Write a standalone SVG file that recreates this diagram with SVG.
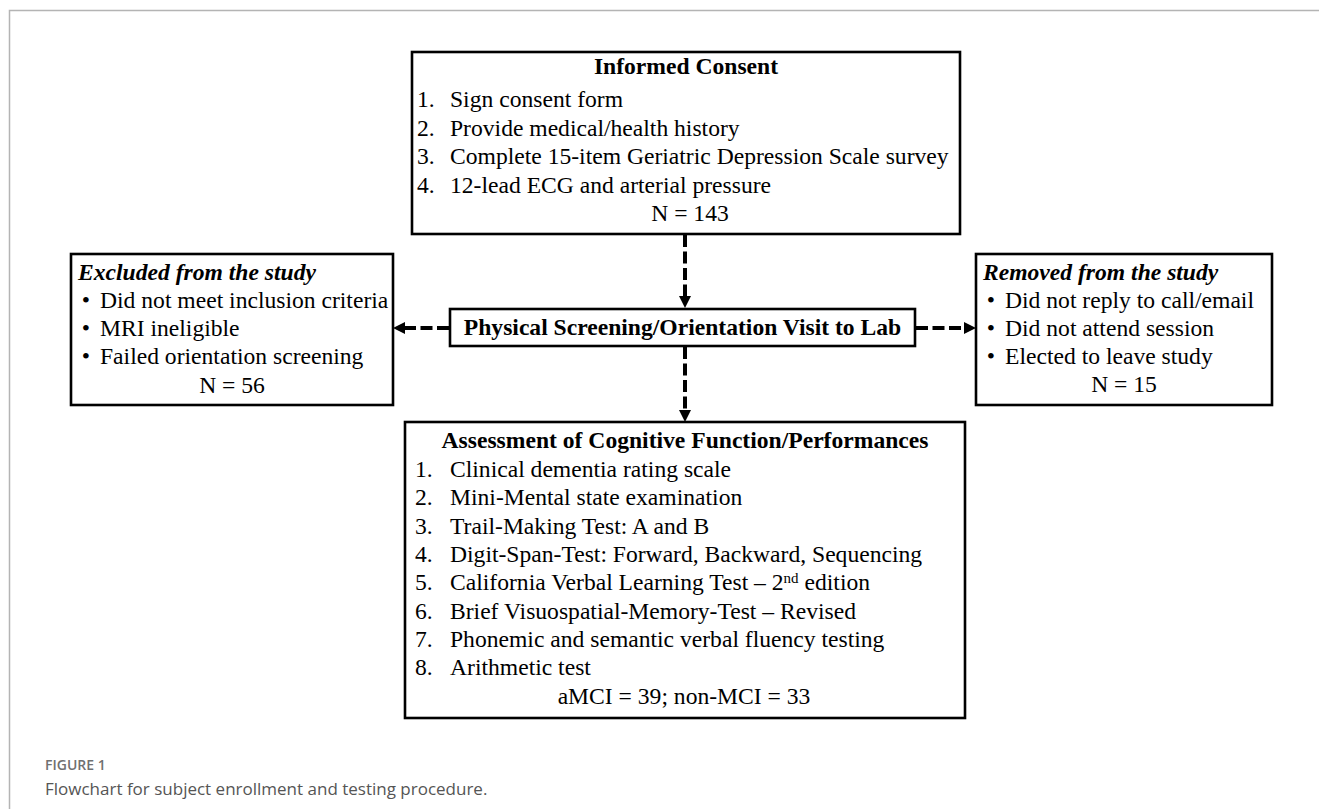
<svg xmlns="http://www.w3.org/2000/svg" width="1319" height="809" viewBox="0 0 1319 809">
<style>
  .box { fill: #ffffff; stroke: #000000; stroke-width: 2.6; }
  .t { font-family: "Liberation Serif", "Times New Roman", serif; font-size: 23.6px; fill: #000; }
  .b { font-weight: bold; }
  .bi { font-weight: bold; font-style: italic; }
  .c { text-anchor: middle; }
  .dash { fill: none; stroke: #000; stroke-width: 4; stroke-dasharray: 12 4.5; }
  .frame { fill: none; stroke: #b4b4b4; stroke-width: 1.5; }
  .figlab { font-family: "Open Sans", "Liberation Sans", sans-serif; font-size: 14px; font-weight: 600; fill: #707070; }
  .cap { font-family: "Open Sans", "Liberation Sans", sans-serif; font-size: 17px; fill: #555555; }
</style>
<defs>
  <marker id="ah" markerUnits="userSpaceOnUse" markerWidth="12" markerHeight="12" refX="0" refY="6" orient="auto">
    <path d="M0,0 L12,6 L0,12 Z" fill="#000"/>
  </marker>
</defs>
<rect x="0" y="0" width="1319" height="809" fill="#ffffff"/>
<path class="frame" d="M9.5,809 L9.5,10.5 L1319,10.5"/>

<g id="connectors">
  <line class="dash" x1="685" y1="235" x2="685" y2="296" marker-end="url(#ah)"/>
  <line class="dash" x1="685" y1="347" x2="685" y2="410" marker-end="url(#ah)"/>
  <line class="dash" x1="449" y1="328" x2="405" y2="328" marker-end="url(#ah)"/>
  <line class="dash" x1="916" y1="328" x2="964" y2="328" marker-end="url(#ah)"/>
</g>

<g id="informed-consent">
  <rect class="box" x="412" y="52" width="548" height="182"/>
  <text class="t b c" x="686" y="74">Informed Consent</text>
  <text class="t" x="417" y="107">1.</text><text class="t" x="450" y="107">Sign consent form</text>
  <text class="t" x="417" y="135.5">2.</text><text class="t" x="450" y="135.5">Provide medical/health history</text>
  <text class="t" x="417" y="164">3.</text><text class="t" x="450" y="164">Complete 15-item Geriatric Depression Scale survey</text>
  <text class="t" x="417" y="192.5">4.</text><text class="t" x="450" y="192.5">12-lead ECG and arterial pressure</text>
  <text class="t c" x="690" y="221">N = 143</text>
</g>

<g id="excluded">
  <rect class="box" x="71" y="254" width="322" height="151"/>
  <text class="t bi" x="78" y="280">Excluded from the study</text>
  <text class="t c" x="86" y="308">•</text><text class="t" x="100" y="308">Did not meet inclusion criteria</text>
  <text class="t c" x="86" y="336">•</text><text class="t" x="100" y="336">MRI ineligible</text>
  <text class="t c" x="86" y="364">•</text><text class="t" x="100" y="364">Failed orientation screening</text>
  <text class="t c" x="232" y="393">N = 56</text>
</g>

<g id="screening">
  <rect class="box" x="450" y="309" width="465" height="37"/>
  <text class="t b c" x="682.5" y="335">Physical Screening/Orientation Visit to Lab</text>
</g>

<g id="removed">
  <rect class="box" x="976" y="254" width="296" height="151"/>
  <text class="t bi" x="983" y="280">Removed from the study</text>
  <text class="t c" x="991" y="308">•</text><text class="t" x="1005" y="308">Did not reply to call/email</text>
  <text class="t c" x="991" y="336">•</text><text class="t" x="1005" y="336">Did not attend session</text>
  <text class="t c" x="991" y="364">•</text><text class="t" x="1005" y="364">Elected to leave study</text>
  <text class="t c" x="1124" y="392">N = 15</text>
</g>

<g id="assessment">
  <rect class="box" x="405" y="422" width="560" height="296"/>
  <text class="t b c" x="685" y="448">Assessment of Cognitive Function/Performances</text>
  <text class="t" x="415" y="477">1.</text><text class="t" x="450" y="477">Clinical dementia rating scale</text>
  <text class="t" x="415" y="505">2.</text><text class="t" x="450" y="505">Mini-Mental state examination</text>
  <text class="t" x="415" y="534">3.</text><text class="t" x="450" y="534">Trail-Making Test: A and B</text>
  <text class="t" x="415" y="562">4.</text><text class="t" x="450" y="562">Digit-Span-Test: Forward, Backward, Sequencing</text>
  <text class="t" x="415" y="590">5.</text><text class="t" x="450" y="590">California Verbal Learning Test – 2<tspan font-size="15" baseline-shift="7">nd</tspan> edition</text>
  <text class="t" x="415" y="619">6.</text><text class="t" x="450" y="619">Brief Visuospatial-Memory-Test – Revised</text>
  <text class="t" x="415" y="647">7.</text><text class="t" x="450" y="647">Phonemic and semantic verbal fluency testing</text>
  <text class="t" x="415" y="675">8.</text><text class="t" x="450" y="675">Arithmetic test</text>
  <text class="t c" x="684" y="704">aMCI = 39; non-MCI = 33</text>
</g>

<g id="caption">
  <text class="figlab" x="45" y="770">FIGURE 1</text>
  <text class="cap" x="45" y="795">Flowchart for subject enrollment and testing procedure.</text>
</g>
</svg>
